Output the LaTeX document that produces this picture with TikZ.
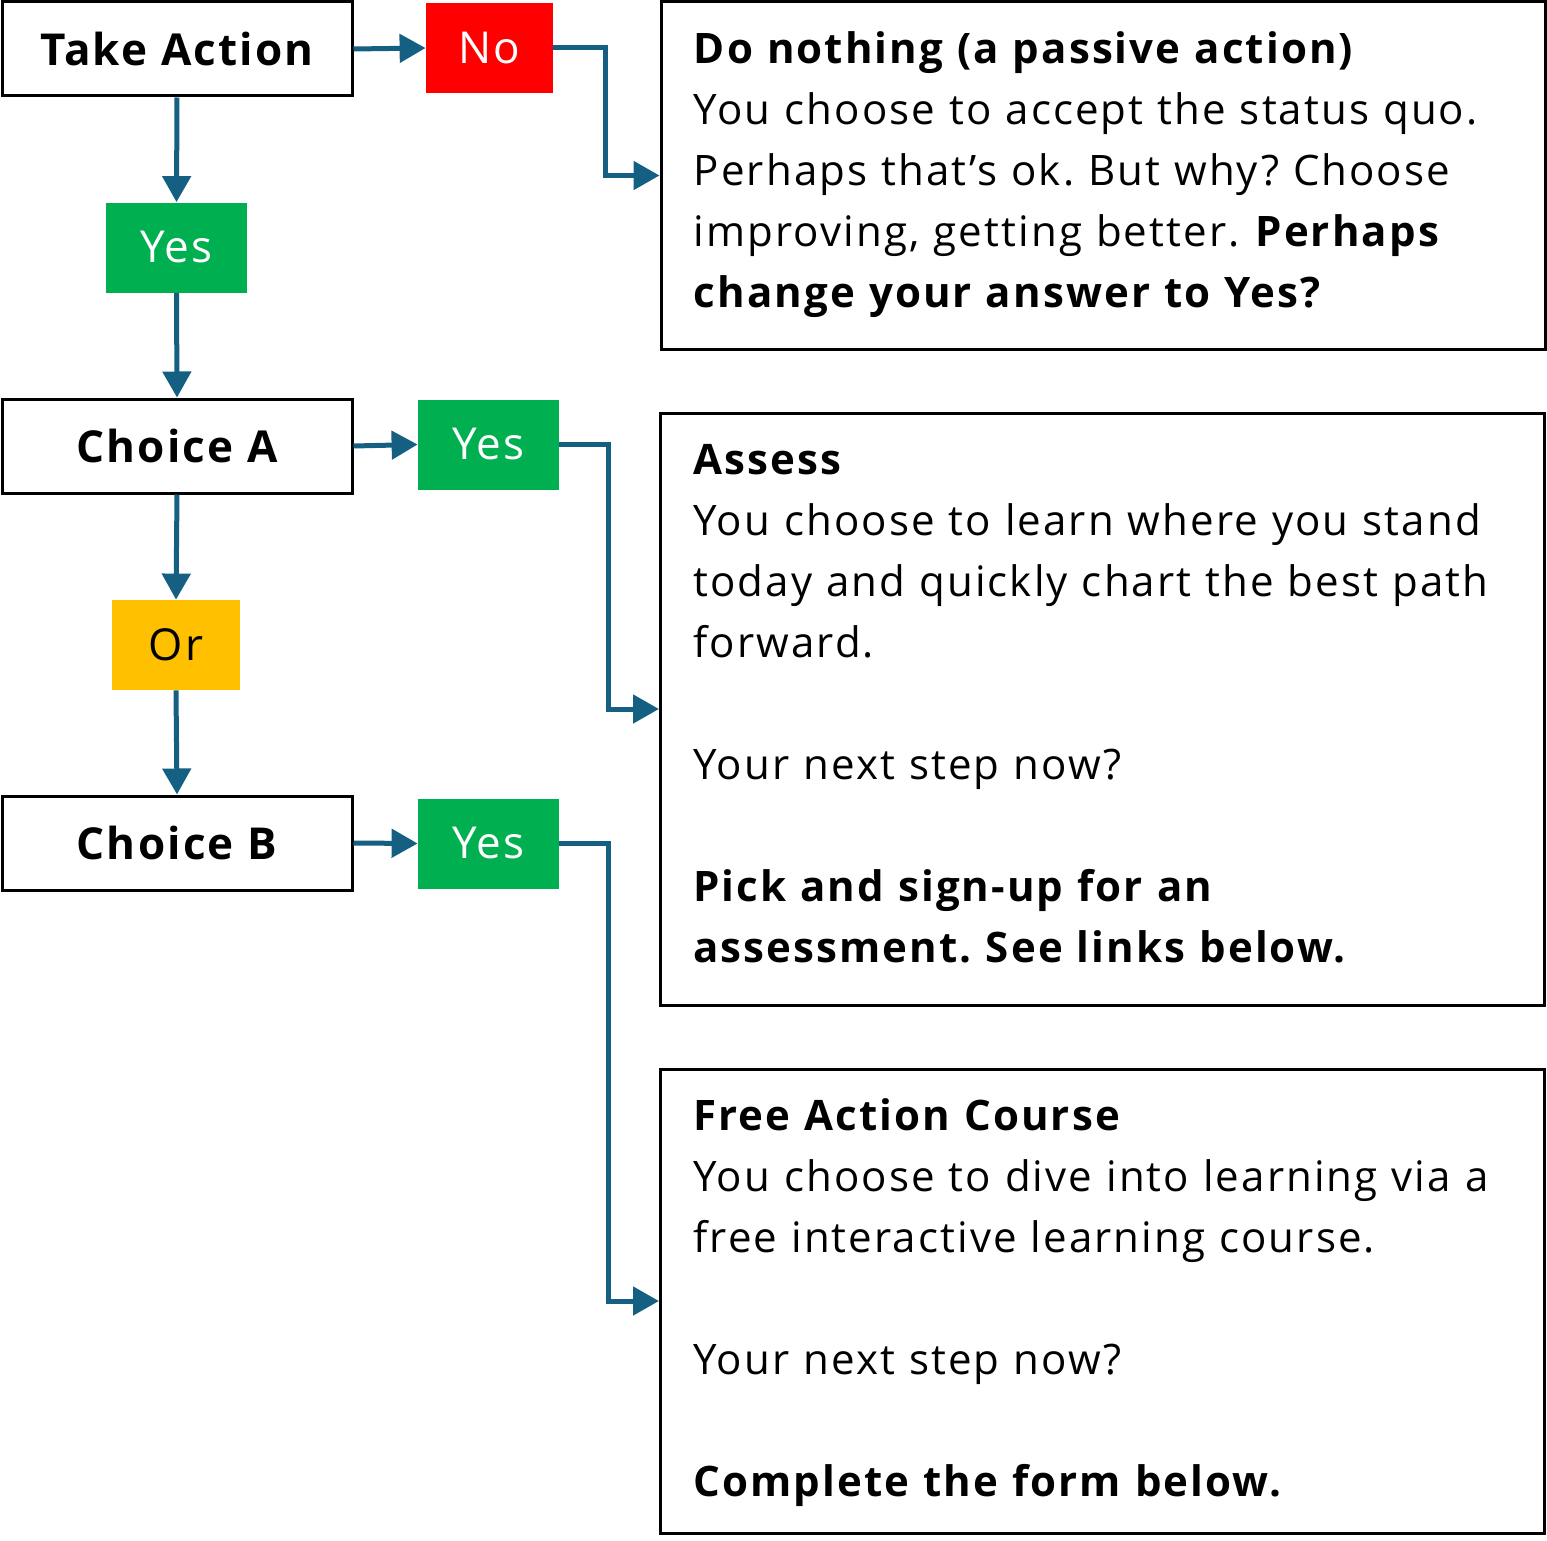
\documentclass[tikz,border=0pt]{standalone}
\usepackage{fontspec}
\setmainfont{Open Sans}[LetterSpace=5]
\frenchspacing
\usetikzlibrary{positioning}
\usetikzlibrary{arrows.meta}
\definecolor{flowblue}{HTML}{156082}
\definecolor{yesgreen}{HTML}{00B050}
\definecolor{nored}{HTML}{FF0000}
\definecolor{oryellow}{HTML}{FFC000}

\begin{document}
\begin{tikzpicture}[x=0.5pt,y=-0.5pt,
choicenode/.style={rectangle, draw=black, fill=white, line width=1.5pt, minimum width=175pt, minimum height=47pt, font=\fontsize{22}{26}\selectfont\bfseries},
yesnode/.style={rectangle, fill=yesgreen, text=white, minimum width=70.5pt, minimum height=45pt, font=\fontsize{22}{26}\selectfont},
nonode/.style={rectangle, fill=nored, text=white, minimum width=63.5pt, minimum height=45pt, font=\fontsize{22}{26}\selectfont},
ornode/.style={rectangle, fill=oryellow, text=black, minimum width=64pt, minimum height=45pt, font=\fontsize{22}{26}\selectfont},
infobox/.style={rectangle, draw=black, line width=1.5pt, minimum width=442pt},
infotext/.style={anchor=base west, inner sep=0pt, text width=425pt, align=left, font=\fontsize{21}{30.5}\selectfont},
flow/.style={-{Triangle[length=13pt,width=14pt]}, draw=flowblue, line width=2.5pt}]
\useasboundingbox (0,0) rectangle (1547,1541);

% left column
\node[choicenode] (take) at (177,49) {Take Action};
\node[yesnode] (yes0) at (176.5,247.5) {Yes};
\node[choicenode] (choicea) at (177,446) {Choice A};
\node[ornode] (or) at (176,645) {Or};
\node[choicenode] (choiceb) at (177,843) {Choice B};

% answers
\node[nonode] (no) at (489.5,48) {No};
\node[yesnode] (yesa) at (488.5,444.5) {Yes};
\node[yesnode] (yesb) at (488.5,843.5) {Yes};

% outcome boxes
\node[infobox, minimum height=173.5pt] (passive) at (1103,175.5) {};
\node[infobox, minimum height=296pt] (assess) at (1102.5,709) {};
\node[infobox, minimum height=232pt] (course) at (1102.5,1301) {};

\node[infotext] (passivetext) at ([shift={(34,63)}]passive.north west)
  {\textbf{Do nothing (a passive action)}\\
   You choose to accept the status quo.\\
   Perhaps that’s ok. But why? Choose\\
   improving, getting better. \textbf{Perhaps}\\
   \textbf{change your answer to Yes?}};
\node[infotext] (assesstext) at ([shift={(34,63)}]assess.north west)
  {\textbf{Assess}\\
   You choose to learn where you stand\\
   today and quickly chart the best path\\
   forward.\\[30.5pt]
   Your next step now?\\[30.5pt]
   \textbf{Pick and sign-up for an}\\
   \textbf{assessment. See links below.}};
\node[infotext] (coursetext) at ([shift={(34,63)}]course.north west)
  {\textbf{Free Action Course}\\
   You choose to dive into learning via a\\
   free interactive learning course.\\[30.5pt]
   Your next step now?\\[30.5pt]
   \textbf{Complete the form below.}};

\draw[flow] (take.east) -- (no.west);
\draw[flow] (no.east) -- ++(52,0) |- (passive.west);
\draw[flow] (take.south) -- (yes0.north);
\draw[flow] (yes0.south) -- (choicea.north);
\draw[flow] (choicea.east) -- (yesa.west);
\draw[flow] (yesa.east) -- ++(49,0) |- (assess.west);
\draw[flow] (choicea.south) -- (or.north);
\draw[flow] (or.south) -- (choiceb.north);
\draw[flow] (choiceb.east) -- (yesb.west);
\draw[flow] (yesb.east) -- ++(49,0) |- (course.west);
\end{tikzpicture}
\end{document}
